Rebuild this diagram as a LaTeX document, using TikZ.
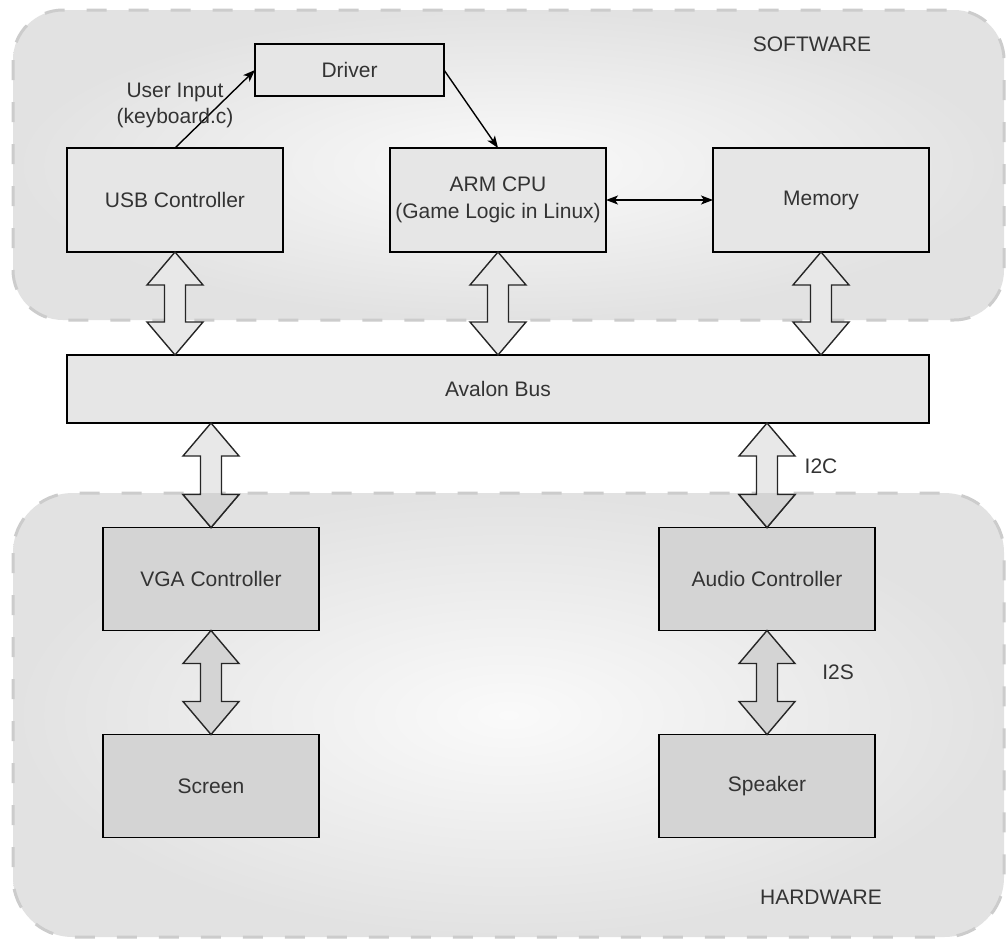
\documentclass[tikz,border=0pt]{standalone}
\usepackage{fontspec}
\setmainfont{Liberation Sans}
\usetikzlibrary{arrows.meta,calc}
\definecolor{txt}{HTML}{333333}
\definecolor{swbox}{HTML}{E6E6E6}
\definecolor{hwbox}{HTML}{D4D4D4}
\definecolor{regout}{HTML}{E2E2E2}
\definecolor{regin}{HTML}{FAFAFA}
\definecolor{dashcol}{HTML}{CCCCCC}
\definecolor{arrlight}{HTML}{E8E8E8}
\definecolor{arrdark}{HTML}{D4D4D4}
\newcommand{\blockarr}[3]{%
  \path[#1] let \p1=(#2), \p2=(#3) in
    (\x1,\y1) -- (\x1+28pt,\y1-33pt) -- (\x1+10.5pt,\y1-33pt) -- (\x1+10.5pt,\y2+33pt)
    -- (\x1+28pt,\y2+33pt) -- (\x1,\y2) -- (\x1-28pt,\y2+33pt) -- (\x1-10.5pt,\y2+33pt)
    -- (\x1-10.5pt,\y1-33pt) -- (\x1-28pt,\y1-33pt) -- cycle;}
\tikzset{
  region/.style={draw=dashcol, line width=3pt, dash pattern=on 20pt off 22pt,
    inner color=regin, outer color=regout},
  box/.style={draw=black, line width=1.4pt, inner sep=0pt, outer sep=0pt,
    minimum width=216pt, minimum height=104pt, align=center, text=txt,
    font=\fontsize{21}{27}\selectfont},
  swb/.style={box, fill=swbox},
  hwb/.style={box, fill=hwbox},
  lbl/.style={text=txt, inner sep=0pt, align=center, font=\fontsize{21}{26}\selectfont},
  thin/.style={draw=black, line width=1.4pt, -{Stealth[length=12pt,width=9pt,inset=3pt]}},
  thinboth/.style={draw=black, line width=1.4pt, {Stealth[length=12pt,width=9pt,inset=3pt]}-{Stealth[length=12pt,width=9pt,inset=3pt]}},
  barrow/.style={draw=black!85, line width=1.4pt, fill=arrlight, line join=miter},
  barrowdark/.style={draw=black!85, line width=1.4pt, fill=arrdark, line join=miter},
}
\begin{document}
\begin{tikzpicture}[x=1pt,y=-1pt]
\useasboundingbox[fill=white] (0,0) rectangle (1008,940);
% regions
\shadedraw[region, rounded corners=50pt] (13,10) rectangle (1004,320);
\shadedraw[region, rounded corners=60pt] (13,493) rectangle (1004,937);
\node[lbl] (swlbl) at (812,44) {SOFTWARE};
\node[lbl] (hwlbl) at (821,897) {HARDWARE};
% software boxes
\node[swb, minimum width=189pt, minimum height=52pt] (drv) at (349.5,70) {Driver};
\node[swb] (usb) at (175,200) {USB Controller};
\node[swb] (arm) at (498,200) {ARM CPU\\(Game Logic in Linux)};
\node[swb] (mem) at (821,200) {Memory};
\node[swb, minimum width=862pt, minimum height=68pt] (bus) at (498,389) {Avalon Bus};
% hardware boxes
\node[hwb, minimum height=103pt] (vga) at (211,579) {VGA Controller};
\node[hwb, minimum height=103pt] (aud) at (767,579) {Audio Controller};
\node[hwb, minimum height=103pt] (scr) at (211,786) {Screen};
\node[hwb, minimum height=103pt] (spk) at (767,786) {Speaker};
% thin connectors
\draw[thin] (usb.north) -- (drv.west);
\draw[thin] (drv.east) -- (arm.north);
\draw[thinboth] (arm.east) -- (mem.west);
\node[lbl] (uin) at (175,105) {User Input\\(keyboard.c)};
% block arrows
\blockarr{barrow}{usb.south}{usb.south |- bus.north}
\blockarr{barrow}{arm.south}{arm.south |- bus.north}
\blockarr{barrow}{mem.south}{mem.south |- bus.north}
\blockarr{barrow}{vga.north |- bus.south}{vga.north}
\blockarr{barrow}{aud.north |- bus.south}{aud.north}
\blockarr{barrowdark}{vga.south}{scr.north}
\blockarr{barrowdark}{aud.south}{spk.north}
\begin{scope}
\clip[rounded corners=60pt] (13,493) rectangle (1004,937);
\blockarr{barrowdark}{vga.north |- bus.south}{vga.north}
\blockarr{barrowdark}{aud.north |- bus.south}{aud.north}
\end{scope}
\node[lbl] (i2c) at (821,466) {I2C};
\node[lbl] (i2s) at (838,672) {I2S};
\end{tikzpicture}
\end{document}
